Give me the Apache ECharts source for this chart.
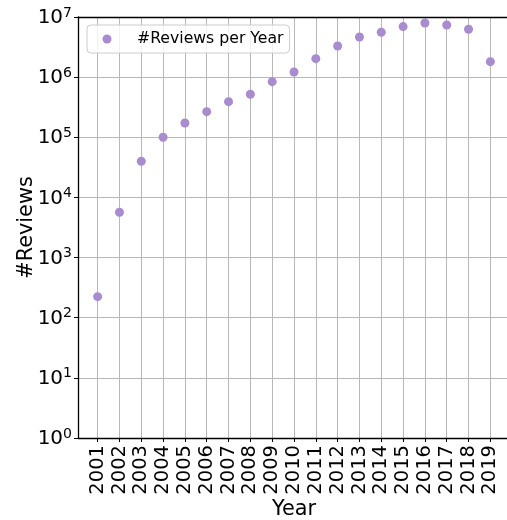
<!DOCTYPE html>
<html>
<head>
<meta charset="utf-8">
<script src="https://cdn.jsdelivr.net/npm/echarts@6/dist/echarts.min.js"></script>
<style>
html,body{margin:0;padding:0;background:#fff;}
#chart{width:507px;height:520px;}
</style>
</head>
<body>
<div id="chart"></div>
<script>
var years = [2001,2002,2003,2004,2005,2006,2007,2008,2009,2010,2011,2012,2013,2014,2015,2016,2017,2018,2019];
var reviews = [224,5660,40000,100000,173000,267000,391000,519000,841000,1220000,2030000,3300000,4650000,5570000,6920000,7950000,7360000,6250000,1810000];
var seriesName = '#Reviews per Year';
var xName = 'Year';
var yName = '#Reviews';

var FONT = 'DejaVu Sans';
var chart = echarts.init(document.getElementById('chart'));
chart.setOption({
  animation: false,
  backgroundColor: '#fff',
  grid: {left: 78, top: 17, right: -3, bottom: 82, show: false, containLabel: false, outerBoundsMode: 'none'},
  legend: {
    left: 87, top: 25,
    data: [seriesName],
    icon: 'circle', itemWidth: 9, itemHeight: 9,
    padding: [5, 6, 5, 15.5],
    borderColor: '#cccccc', borderWidth: 1, borderRadius: 4,
    backgroundColor: 'rgba(255,255,255,0.8)',
    textStyle: {fontFamily: FONT, fontSize: 15.7, color: '#000', lineHeight: 18, padding: [0,0,0,20.5]}
  },
  xAxis: [{
    type: 'value', min: 2000.1, max: 2019.9, splitNumber: 20,
    name: xName, nameLocation: 'middle', nameGap: 61, nameMoveOverlap: false,
    nameTextStyle: {fontFamily: FONT, fontSize: 20.8, color: '#000'},
    axisLine: {show: true, lineStyle: {color: '#000', width: 1.3}},
    axisTick: {show: true, length: 4, inside: false, lineStyle: {color: '#000', width: 1}},
    axisLabel: {rotate: 90, margin: 7, fontFamily: FONT, fontSize: 19.5, color: '#000', showMinLabel: false, showMaxLabel: false,
      formatter: function(v){ return Math.abs(v - Math.round(v)) < 1e-6 ? String(Math.round(v)) : ''; }},
    splitLine: {show: true, lineStyle: {color: '#b8b8b8', width: 1}}
  }, {
    type: 'value', min: 2000.1, max: 2019.9, position: 'top',
    axisLine: {show: true, onZero: false, lineStyle: {color: '#000', width: 1.3}},
    axisTick: {show: false}, axisLabel: {show: false}, splitLine: {show: false}
  }],
  yAxis: {
    type: 'log', logBase: 10, min: 1, max: 1e7,
    name: yName, nameLocation: 'middle', nameGap: 41, nameMoveOverlap: false,
    nameTextStyle: {fontFamily: FONT, fontSize: 20.8, color: '#000'},
    axisLine: {show: true, lineStyle: {color: '#000', width: 1.3}},
    axisTick: {show: true, length: 4, lineStyle: {color: '#000', width: 1}},
    axisLabel: {margin: 6, color: '#000',
      formatter: function(v){ var e = Math.round(Math.log10(v)); return '{b|10}{s|' + e + '}'; },
      rich: {
        b: {fontFamily: FONT, fontSize: 20, color: '#000', lineHeight: 22, verticalAlign: 'bottom'},
        s: {fontFamily: FONT, fontSize: 14, color: '#000', verticalAlign: 'top', lineHeight: 22}
      }},
    splitLine: {show: true, lineStyle: {color: '#b8b8b8', width: 1}}
  },
  series: [{
    name: seriesName,
    type: 'scatter',
    symbol: 'circle',
    symbolSize: 9,
    itemStyle: {color: '#a98bcf', opacity: 1},
    data: years.map(function(y, i){ return [y, reviews[i]]; })
  }]
});
</script>
</body>
</html>
